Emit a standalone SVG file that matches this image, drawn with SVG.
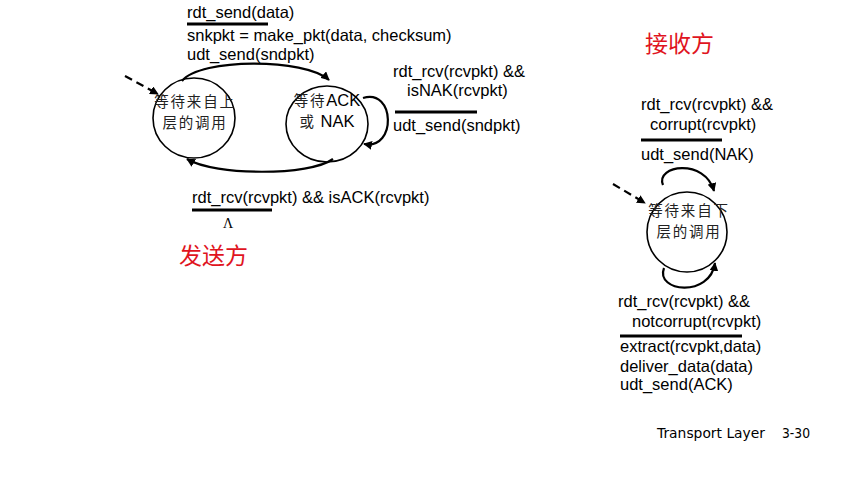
<svg xmlns="http://www.w3.org/2000/svg" width="867" height="481" viewBox="0 0 867 481">
  <style>
    .lbl { font-family: "Liberation Sans", Arial, sans-serif; font-size: 16.5px; fill: #000; }
    .st { font-family: "Noto Sans CJK SC", "Liberation Serif", serif; font-size: 14.5px; letter-spacing: 1.8px; fill: #222; }
    .red { font-family: "Noto Sans CJK SC", "Liberation Serif", serif; font-size: 23px; fill: #e0141e; }
    .state { fill: #fff; stroke: #000; stroke-width: 1.6; }
    .edge { fill: none; stroke: #000; stroke-width: 2.2; }
    .dash { fill: none; stroke: #000; stroke-width: 2.2; stroke-dasharray: 8 5; }
    .bar { stroke: #000; stroke-width: 3; }
    .foot { font-family: "DejaVu Sans", "Liberation Sans", sans-serif; font-size: 14px; fill: #000; }
  </style>
  <defs>
    <marker id="arr" viewBox="0 0 10 10" refX="9" refY="5" markerWidth="4" markerHeight="4" orient="auto" markerUnits="strokeWidth">
      <path d="M0,0 L10,5 L0,10 Z" fill="#000"/>
    </marker>
  </defs>

  <rect width="867" height="481" fill="#fff"/>

  <!-- sender states -->
  <g id="s-wait-call">
    <ellipse class="state" cx="194" cy="118" rx="41" ry="40"/>
    <text class="st" x="195" y="107" text-anchor="middle">等待来自上</text>
    <text class="st" x="195" y="128" text-anchor="middle">层的调用</text>
  </g>
  <g id="s-wait-ack">
    <ellipse class="state" cx="327" cy="124" rx="41" ry="38"/>
    <text class="lbl" x="327" y="106" text-anchor="middle"><tspan class="st">等待</tspan>ACK</text>
    <text class="lbl" x="327" y="127" text-anchor="middle"><tspan class="st">或</tspan> NAK</text>
  </g>

  <!-- receiver state -->
  <g id="r-wait-call">
    <circle class="state" cx="687" cy="232" r="40"/>
    <text class="st" x="689" y="216" text-anchor="middle">等待来自下</text>
    <text class="st" x="689" y="237" text-anchor="middle">层的调用</text>
  </g>

  <!-- connectors -->
  <g id="connectors">
    <path class="dash" d="M125,76 L158,94" marker-end="url(#arr)"/>
    <path class="edge" d="M182,81 C200,58 305,58 329,80" marker-end="url(#arr)"/>
    <path class="edge" d="M333,159 C310,176 215,176 187,159" marker-end="url(#arr)"/>
    <path class="edge" d="M363,98 C395,88 397,150 364,144" marker-end="url(#arr)"/>

    <path class="dash" d="M613,184 L645,203" marker-end="url(#arr)"/>
    <path class="edge" d="M663,185 C655,165 705,158 714,191" marker-end="url(#arr)"/>
    <path class="edge" d="M664,268 C655,292 710,298 715,263" marker-end="url(#arr)"/>
  </g>

  <!-- sender labels -->
  <g id="sender-labels">
    <text class="lbl" x="187" y="18">rdt_send(data)</text>
    <line class="bar" x1="187" y1="24" x2="268" y2="24"/>
    <text class="lbl" x="187" y="41">snkpkt = make_pkt(data, checksum)</text>
    <text class="lbl" x="187" y="60">udt_send(sndpkt)</text>

    <text class="lbl" x="393" y="77">rdt_rcv(rcvpkt) &amp;&amp;</text>
    <text class="lbl" x="407" y="96">isNAK(rcvpkt)</text>
    <line class="bar" x1="395" y1="112" x2="477" y2="112"/>
    <text class="lbl" x="393" y="131">udt_send(sndpkt)</text>

    <text class="lbl" x="192" y="203">rdt_rcv(rcvpkt) &amp;&amp; isACK(rcvpkt)</text>
    <line class="bar" x1="192" y1="210" x2="272" y2="210"/>
    <text x="228" y="228" text-anchor="middle" style="font-family:'Liberation Serif',serif;font-size:14px">Λ</text>

    <text class="red" x="179" y="264">发送方</text>
  </g>

  <!-- receiver labels -->
  <g id="receiver-labels">
    <text class="red" x="645" y="52">接收方</text>

    <text class="lbl" x="641" y="110">rdt_rcv(rcvpkt) &amp;&amp;</text>
    <text class="lbl" x="650" y="130">corrupt(rcvpkt)</text>
    <line class="bar" x1="641" y1="140" x2="722" y2="140"/>
    <text class="lbl" x="641" y="160">udt_send(NAK)</text>

    <text class="lbl" x="618" y="307">rdt_rcv(rcvpkt) &amp;&amp;</text>
    <text class="lbl" x="632" y="327">notcorrupt(rcvpkt)</text>
    <line class="bar" x1="620" y1="336" x2="742" y2="336"/>
    <text class="lbl" x="620" y="352">extract(rcvpkt,data)</text>
    <text class="lbl" x="620" y="372">deliver_data(data)</text>
    <text class="lbl" x="620" y="390">udt_send(ACK)</text>
  </g>

  <!-- footer -->
  <text class="foot" x="657" y="438" textLength="108" lengthAdjust="spacingAndGlyphs">Transport Layer</text>
  <text class="foot" x="782" y="438" textLength="28" lengthAdjust="spacingAndGlyphs">3-30</text>
</svg>
